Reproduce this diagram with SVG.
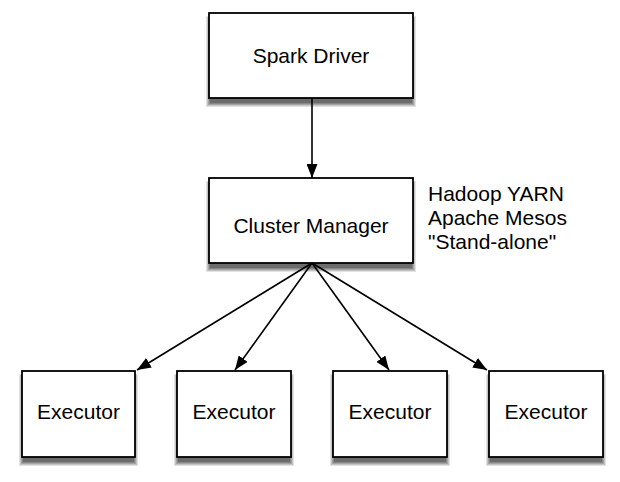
<svg xmlns="http://www.w3.org/2000/svg" width="620" height="482" viewBox="0 0 620 482">
<style>
.box{fill:#fff;stroke:#000;stroke-width:1.8}
.s1{fill:#e2e2e2}.s2{fill:#c4c4c4}.s3{fill:#a4a4a4}.s4{fill:#888}.s5{fill:#6c6c6c}
.lbl{font-family:"Liberation Sans",Arial,sans-serif;font-size:21px;fill:#000}
.edge{stroke:#000;stroke-width:1.6;fill:none;marker-end:url(#ah)}
</style>
<defs>
<marker id="ah" viewBox="0 0 14 11" refX="14" refY="5.5" markerWidth="14" markerHeight="11" markerUnits="userSpaceOnUse" orient="auto">
<path d="M0,0 L14,5.5 L0,11 Z" fill="#000"/>
</marker>
</defs>
<g id="spark-driver">
<rect class="s1" x="206" y="16" width="210" height="91"/>
<rect class="s2" x="207" y="17" width="208" height="89"/>
<rect class="s3" x="208" y="18" width="206" height="87"/>
<rect class="s4" x="209" y="19" width="204" height="85"/>
<rect class="s5" x="210" y="20" width="202" height="83"/>
<rect class="box" x="209" y="13" width="204" height="85"/>
<text class="lbl" x="311" y="63" text-anchor="middle">Spark Driver</text>
</g>
<g id="cluster-manager">
<rect class="s1" x="206" y="181" width="210" height="91"/>
<rect class="s2" x="207" y="182" width="208" height="89"/>
<rect class="s3" x="208" y="183" width="206" height="87"/>
<rect class="s4" x="209" y="184" width="204" height="85"/>
<rect class="s5" x="210" y="185" width="202" height="83"/>
<rect class="box" x="209" y="178" width="204" height="85"/>
<text class="lbl" x="311" y="233" text-anchor="middle">Cluster Manager</text>
</g>
<g id="cluster-types">
<text class="lbl" x="428" y="201">Hadoop YARN</text>
<text class="lbl" x="428" y="225">Apache Mesos</text>
<text class="lbl" x="428" y="249">"Stand-alone"</text>
</g>
<g id="executor-1">
<rect class="s1" x="19" y="374" width="119" height="92"/>
<rect class="s2" x="20" y="375" width="117" height="90"/>
<rect class="s3" x="21" y="376" width="115" height="88"/>
<rect class="s4" x="22" y="377" width="113" height="86"/>
<rect class="s5" x="23" y="378" width="111" height="84"/>
<rect class="box" x="22" y="371" width="113" height="86"/>
<text class="lbl" x="78.5" y="419" text-anchor="middle">Executor</text>
</g>
<g id="executor-2">
<rect class="s1" x="174" y="374" width="120" height="92"/>
<rect class="s2" x="175" y="375" width="118" height="90"/>
<rect class="s3" x="176" y="376" width="116" height="88"/>
<rect class="s4" x="177" y="377" width="114" height="86"/>
<rect class="s5" x="178" y="378" width="112" height="84"/>
<rect class="box" x="177" y="371" width="114" height="86"/>
<text class="lbl" x="234" y="419" text-anchor="middle">Executor</text>
</g>
<g id="executor-3">
<rect class="s1" x="330" y="374" width="120" height="92"/>
<rect class="s2" x="331" y="375" width="118" height="90"/>
<rect class="s3" x="332" y="376" width="116" height="88"/>
<rect class="s4" x="333" y="377" width="114" height="86"/>
<rect class="s5" x="334" y="378" width="112" height="84"/>
<rect class="box" x="333" y="371" width="114" height="86"/>
<text class="lbl" x="390" y="419" text-anchor="middle">Executor</text>
</g>
<g id="executor-4">
<rect class="s1" x="486" y="374" width="120" height="92"/>
<rect class="s2" x="487" y="375" width="118" height="90"/>
<rect class="s3" x="488" y="376" width="116" height="88"/>
<rect class="s4" x="489" y="377" width="114" height="86"/>
<rect class="s5" x="490" y="378" width="112" height="84"/>
<rect class="box" x="489" y="371" width="114" height="86"/>
<text class="lbl" x="546" y="419" text-anchor="middle">Executor</text>
</g>
<g id="connectors">
<line class="edge" x1="312" y1="98" x2="312" y2="178"/>
<line class="edge" x1="312" y1="263" x2="137" y2="370"/>
<line class="edge" x1="312" y1="263" x2="235" y2="370"/>
<line class="edge" x1="312" y1="263" x2="389" y2="370"/>
<line class="edge" x1="312" y1="263" x2="487" y2="370"/>
</g>
</svg>
